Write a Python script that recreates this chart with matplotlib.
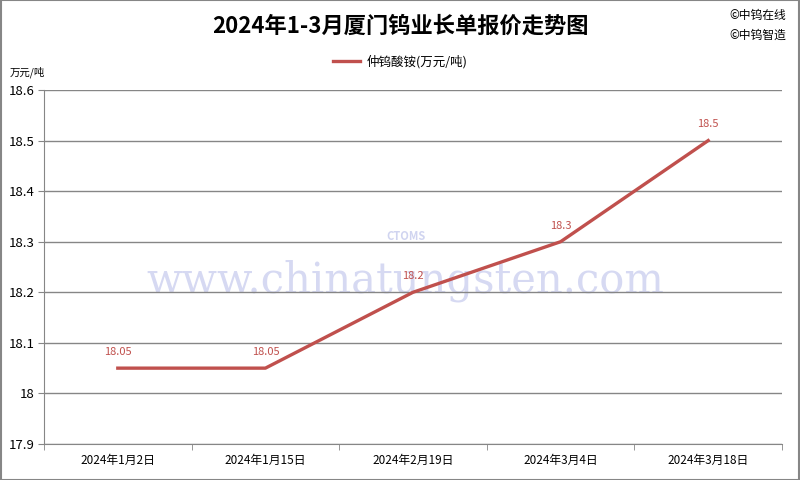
import matplotlib
matplotlib.use("Agg")
import matplotlib.pyplot as plt

plt.rcParams['font.family'] = ['Noto Sans CJK SC', 'DejaVu Sans']

#Data
dates = ["2024年1月2日", "2024年1月15日", "2024年2月19日", "2024年3月4日", "2024年3月18日"]
prices = [18.05, 18.05, 18.2, 18.3, 18.5]  #[万元/吨]
price_labels = ["18.05", "18.05", "18.2", "18.3", "18.5"]
yticks = [17.9, 18, 18.1, 18.2, 18.3, 18.4, 18.5, 18.6]
ytick_labels = ["17.9", "18", "18.1", "18.2", "18.3", "18.4", "18.5", "18.6"]

line_color = "#C0504D"
grid_color = "#868686"

fig = plt.figure(figsize=(8, 4.8), dpi=100)
ax = fig.add_axes([0.055, 0.075, 0.9225, 0.7375])

x = list(range(len(dates)))
ax.plot(x, prices, color=line_color, lw=2.4, label="仲钨酸铵(万元/吨)", zorder=3)
for xi, yi, lab in zip(x, prices, price_labels):
    ax.annotate(lab, (xi, yi), xytext=(0, 8), textcoords="offset points",
                ha="center", va="bottom", fontsize=8, color=line_color, zorder=4)

ax.set_xlim(-0.5, len(dates) - 0.5)
ax.set_ylim(17.9, 18.6)
ax.set_yticks(yticks)
ax.set_yticklabels(ytick_labels, fontsize=9.5)
ax.set_xticks(x)
ax.set_xticklabels(dates, fontsize=8.5)
ax.set_xticks([i - 0.5 for i in range(len(dates) + 1)], minor=True)
ax.tick_params(axis="x", which="major", length=0, pad=7)
ax.tick_params(axis="x", which="minor", length=4, color=grid_color)
ax.tick_params(axis="y", length=4, color=grid_color, pad=3)
ax.grid(axis="y", color=grid_color, lw=1)
for s in ["top", "right"]:
    ax.spines[s].set_visible(False)
ax.spines["left"].set_color(grid_color)
ax.spines["bottom"].set_color(grid_color)

#Watermark
ax.text(0.49, 0.46, "www.chinatungsten.com", transform=ax.transAxes, ha="center", va="center",
        fontsize=30, family="DejaVu Serif", color="#D6D9F2", zorder=1)
ax.text(0.49, 0.585, "CTOMS", transform=ax.transAxes, ha="center", va="center",
        fontsize=8, style="italic", weight="bold", color="#D0D4F0", zorder=1)

fig.text(0.5, 0.945, "2024年1-3月厦门钨业长单报价走势图", ha="center", va="center",
         fontsize=16, weight="bold")
fig.text(0.912, 0.967, "©中钨在线", ha="left", va="center", fontsize=8.5)
fig.text(0.912, 0.927, "©中钨智造", ha="left", va="center", fontsize=8.5)
fig.text(0.012, 0.85, "万元/吨", ha="left", va="center", fontsize=7.5)

leg = fig.legend(loc="center", bbox_to_anchor=(0.5, 0.872), frameon=False, fontsize=9,
                 handlelength=2.2, handletextpad=0.5)

fig.patches.append(plt.Rectangle((0.001, 0.001), 0.998, 0.998, transform=fig.transFigure,
                                 fill=False, edgecolor=grid_color, lw=1.5))

fig.savefig("out.png", dpi=100)
